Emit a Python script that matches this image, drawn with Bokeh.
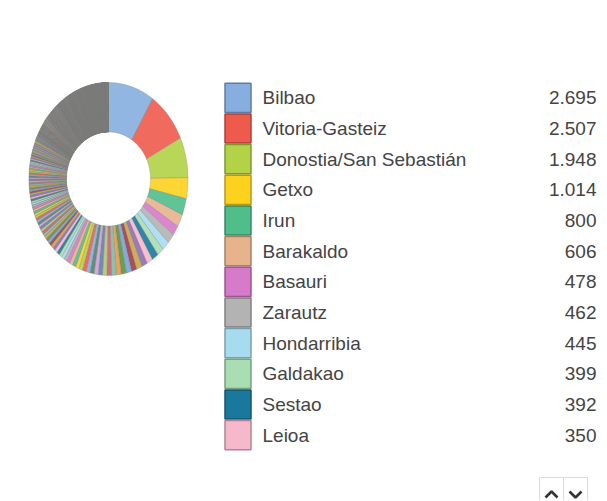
import math
from bokeh.plotting import figure
from bokeh.models import Range1d, ColumnDataSource
from bokeh.core.properties import value
from bokeh.embed import file_html
from bokeh.resources import INLINE

# ---- data -------------------------------------------------------------
names = ["Bilbao", "Vitoria-Gasteiz", "Donostia/San Sebastián", "Getxo", "Irun",
         "Barakaldo", "Basauri", "Zarautz", "Hondarribia", "Galdakao", "Sestao", "Leioa"]
values = [2695, 2507, 1948, 1014, 800, 606, 478, 462, 445, 399, 392, 350]

# remaining (unlabelled) municipalities, estimated from the ring
others_a = [338, 329, 317, 306, 298, 287, 279, 268, 261, 252, 244, 236, 229, 221,
            214, 208, 201, 195, 189, 183, 178, 172, 167, 162, 158, 153, 149, 145]
others_b = [141, 138, 135, 132, 129, 127, 124, 121, 119, 116, 114, 112, 110, 108, 106,
            104, 102, 100, 98, 96, 95, 93, 91, 90, 88, 86, 85, 83, 82, 80,
            79, 78, 76, 75, 74, 73, 71, 70, 69, 68, 67, 66, 65, 64, 63,
            62, 61, 60, 59, 58, 57, 56, 55, 54, 53, 52, 51, 50, 49, 48]
others_c = [46, 46, 46, 45, 45, 45, 44, 44, 44, 43, 43, 43, 42, 42, 42, 41, 41, 41, 40, 40, 40,
            39, 39, 39, 39, 38, 38, 38, 38, 37, 37, 37, 37, 36, 36, 36, 36, 35, 35, 35, 35,
            34, 34, 34, 34, 33, 33, 33, 33, 32, 32, 32, 32, 31, 31, 31, 31, 30, 30, 30, 30,
            29, 29, 29, 29, 29, 29, 28, 28, 28, 28, 28, 28, 27, 27, 27, 27, 27, 27,
            26, 26, 26, 26, 26, 26, 25, 25, 25, 25, 25, 25, 24, 24, 24, 24, 24, 24,
            23, 23, 23, 23, 23, 23, 22, 22, 22, 22, 22, 22, 21, 21, 21, 21, 21, 21,
            20, 20, 20, 20, 20, 20,
            19, 19, 19, 19, 19, 19, 19, 19, 18, 18, 18, 18, 18, 18, 18, 18,
            17, 17, 17, 17, 17, 17, 17, 17, 16, 16, 16, 16, 16, 16, 16, 16,
            15, 15, 15, 15, 15, 15, 15, 15, 14, 14, 14, 14, 14, 14, 14, 14,
            13, 13, 13, 13, 13, 13, 13, 13, 12, 12, 12, 12, 12, 12, 12, 12,
            11, 11, 11, 11, 11, 11, 11, 11, 10, 10, 10, 10, 10, 10, 10, 10,
            9, 9, 9, 9, 9, 9, 9, 9, 9, 9, 8, 8, 8, 8, 8, 8, 8, 8, 8, 8,
            7, 7, 7, 7, 7, 7, 7, 7, 7, 7, 6, 6, 6, 6, 6, 6, 6, 6, 6, 6,
            5, 5, 5, 5, 5, 5, 5, 5, 5, 5, 4, 4, 4, 4, 4, 4, 4, 4, 4, 4,
            3, 3, 3, 3, 3, 3, 3, 3, 3, 3]

legend_colors = ["#86AEDF", "#EE5B4D", "#B3D246", "#FDD21F", "#4FBE8B", "#E7B38C",
                 "#D67ACA", "#B3B3B3", "#A7DCEF", "#A9DDB2", "#18799D", "#F6B8CB"]
extra_colors = ["#8E6DB2", "#C9A646", "#A23A4B", "#6FA6D6", "#5F9040", "#E39B45",
                "#7DBBA9", "#C36272", "#B5C46E", "#5F7FB2", "#CFA0D2", "#4F8272"]
palette = legend_colors + extra_colors

# ---- layout -----------------------------------------------------------
W, H = 600, 500
cx, cy = 108, 178.5
rxo, ryo = 79.5, 96.5
rxi, ryi = 42, 47

p = figure(width=W, height=H, x_range=Range1d(0, W), y_range=Range1d(H, 0),
           output_backend="svg", toolbar_location=None, min_border=0)
p.axis.visible = False
p.grid.visible = False
p.outline_line_color = None
p.background_fill_color = "white"
p.border_fill_color = "white"

# ---- donut -------------------------------------------------------------
all_vals = values + others_a + others_b + others_c
total = float(sum(all_vals))
xs, ys, fills, lw = [], [], [], []
acc = 0.0
for i, v in enumerate(all_vals):
    a0 = acc / total * 2 * math.pi
    acc += v
    a1 = acc / total * 2 * math.pi
    n = max(2, int(math.degrees(a1 - a0)) + 2)
    angs = [a0 + (a1 - a0) * k / (n - 1) for k in range(n)]
    ox = [cx + rxo * math.sin(a) for a in angs]
    oy = [cy - ryo * math.cos(a) for a in angs]
    ix = [cx + rxi * math.sin(a) for a in reversed(angs)]
    iy = [cy - ryi * math.cos(a) for a in reversed(angs)]
    xs.append(ox + ix)
    ys.append(oy + iy)
    fills.append(palette[i % len(palette)])
    lw.append(0.3 if v > 150 else (0.5 if v > 47 else 0.8))

p.patches(xs="xs", ys="ys", fill_color="fill", line_color="#7a7a7a", line_width="lw",
          fill_alpha=0.9, source=ColumnDataSource(dict(xs=xs, ys=ys, fill=fills, lw=lw)))

# ---- legend ------------------------------------------------------------
def darker(c, f=0.72):
    r, g, b = int(c[1:3], 16), int(c[3:5], 16), int(c[5:7], 16)
    return "#%02x%02x%02x" % (int(r * f), int(g * f), int(b * f))

row_h = 30.67
top = 82
sw_x0, sw_x1 = 224.5, 250.5
ly = [top + row_h * (i + 0.5) for i in range(len(names))]
leg = ColumnDataSource(dict(
    y=ly, name=names,
    val=[f"{v:,}".replace(",", ".") for v in values],
    fill=legend_colors[:len(names)],
    edge=[darker(c) for c in legend_colors[:len(names)]],
))
p.rect(x=(sw_x0 + sw_x1) / 2, y="y", width=sw_x1 - sw_x0, height=row_h - 1.5,
       fill_color="fill", line_color="edge", line_width=1.5, source=leg)
p.text(x=262, y="y", text="name", source=leg, text_font=value("Liberation Sans"),
       text_font_size="19px", text_color="#444444", text_baseline="middle", text_align="left")
p.text(x=596, y="y", text="val", source=leg, text_font=value("Liberation Sans"),
       text_font_size="19px", text_color="#444444", text_baseline="middle", text_align="right")

# ---- paging buttons ----------------------------------------------------
bx = [551, 575]
p.rect(x=bx, y=[489, 489], width=[24, 24], height=[24, 24], fill_color="white",
       line_color="#dcdcdc", line_width=1)
p.multi_line(xs=[[bx[0] - 6, bx[0], bx[0] + 6], [bx[1] - 6, bx[1], bx[1] + 6]],
             ys=[[497, 491, 497], [491, 497, 491]], line_color="#333333", line_width=2.6)

open("out.html", "w").write(file_html(p, INLINE))
